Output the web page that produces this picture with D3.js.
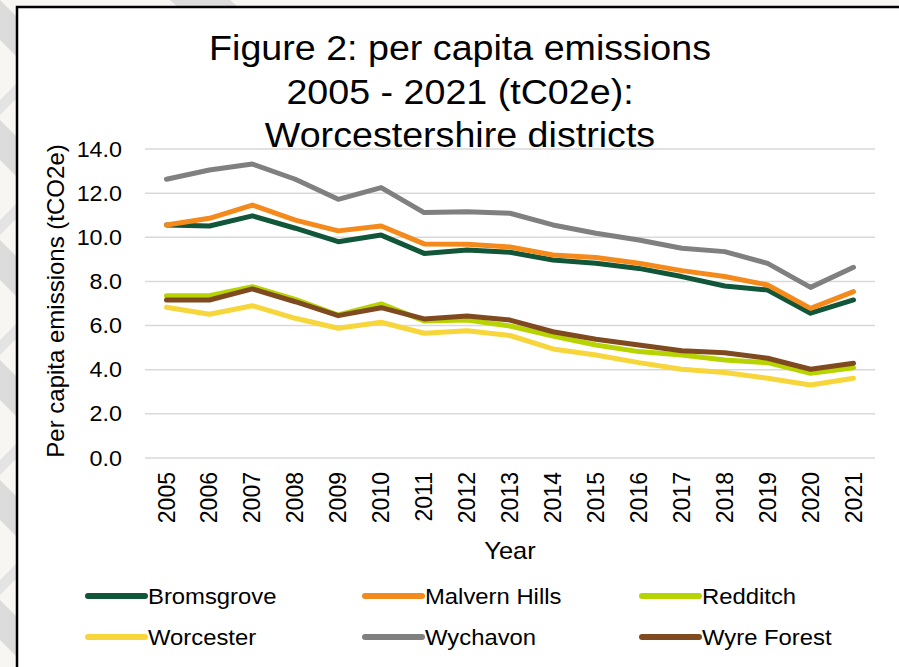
<!DOCTYPE html>
<html>
<head>
<meta charset="utf-8">
<script src="https://cdn.jsdelivr.net/npm/d3@7"></script>
<style>
  body { margin: 0; background: #f7f6f3; }
  svg { display: block; font-family: Arial, "Liberation Sans", sans-serif; }
</style>
</head>
<body>
<svg id="chart" width="899" height="667"></svg>
<script>
// data
const years = ["2005","2006","2007","2008","2009","2010","2011","2012","2013","2014","2015","2016","2017","2018","2019","2020","2021"];
const bromsgrove  = [10.56,10.51,10.97,10.41,9.80,10.10,9.27,9.42,9.32,8.97,8.82,8.59,8.22,7.79,7.61,6.56,7.16];
const malvernHills = [10.56,10.86,11.46,10.78,10.29,10.51,9.70,9.68,9.56,9.20,9.08,8.82,8.49,8.22,7.84,6.78,7.54];
const redditch    = [7.35,7.35,7.76,7.19,6.48,6.98,6.21,6.25,5.98,5.53,5.12,4.82,4.67,4.44,4.32,3.84,4.09];
const worcester   = [6.83,6.51,6.90,6.33,5.88,6.15,5.65,5.77,5.55,4.94,4.67,4.32,4.02,3.87,3.61,3.31,3.61];
const wychavon    = [12.63,13.05,13.32,12.63,11.72,12.25,11.12,11.16,11.09,10.56,10.18,9.88,9.50,9.35,8.82,7.73,8.64];
const wyreForest  = [7.16,7.16,7.66,7.08,6.45,6.81,6.30,6.43,6.25,5.72,5.38,5.12,4.86,4.77,4.52,4.02,4.29];
const yTicks = [0, 2, 4, 6, 8, 10, 12, 14];

const seriesNames = ["Bromsgrove", "Malvern Hills", "Redditch", "Worcester", "Wychavon", "Wyre Forest"];
const seriesValues = [bromsgrove, malvernHills, redditch, worcester, wychavon, wyreForest];
const seriesColors = ["#12563a", "#f58a1c", "#b8d400", "#f6d63b", "#808080", "#7f4a1f"];

// the original text is a touch wider than Liberation Sans
const stretch = "scale(1.06,1)";

const svg = d3.select("#chart");

// light striped backdrop down the left edge
const bg = svg.append("g");
for (let k = -2; k < 12; k++) {
  const y0 = k * 120;
  bg.append("path")
    .attr("d", `M0,${y0} L30,${y0 + 30} L30,${y0 + 70} L0,${y0 + 40} Z`)
    .attr("fill", "#dcdcdc");
  bg.append("path")
    .attr("d", `M0,${y0 + 100} L30,${y0 + 70} L30,${y0 + 85} L0,${y0 + 115} Z`)
    .attr("fill", "#e4e4e4");
}
bg.append("path").attr("d", "M170,0 L230,0 L238,7 L178,7 Z").attr("fill", "#dcdcdc");

// chart box
svg.append("rect")
  .attr("x", 17).attr("y", 7)
  .attr("width", 900).attr("height", 700)
  .attr("fill", "#ffffff")
  .attr("stroke", "#000000")
  .attr("stroke-width", 2.5);

const margin = { left: 145, right: 875, top: 149, bottom: 458 };

const x = d3.scaleBand().domain(years).range([margin.left, margin.right]);
const y = d3.scaleLinear().domain([0, 14]).range([margin.bottom, margin.top]);

// gridlines
svg.append("g")
  .selectAll("line")
  .data(yTicks)
  .enter()
  .append("line")
  .attr("x1", margin.left)
  .attr("x2", margin.right)
  .attr("y1", (d) => y(d))
  .attr("y2", (d) => y(d))
  .attr("stroke", "#d9d9d9")
  .attr("stroke-width", 1.5);

// y axis labels
const yAxis = svg.append("g")
  .attr("transform", `translate(${margin.left - 23},0)`)
  .call(d3.axisLeft(y).tickValues(yTicks).tickFormat(d3.format(".1f")).tickSize(0).tickPadding(0));
yAxis.select(".domain").remove();
yAxis.selectAll("text")
  .attr("font-size", "22px")
  .attr("fill", "#000")
  .attr("x", 0)
  .attr("transform", stretch);

// x axis labels, rotated
const xAxis = svg.append("g")
  .attr("transform", `translate(0,${margin.bottom})`)
  .call(d3.axisBottom(x).tickSize(0).tickPadding(0));
xAxis.select(".domain").remove();
xAxis.selectAll("text")
  .attr("font-size", "23px")
  .attr("fill", "#000")
  .attr("text-anchor", "end")
  .attr("transform", "translate(0,14) rotate(-90)")
  .attr("x", 0)
  .attr("y", 0)
  .attr("dy", ".35em");

// axis titles
svg.append("text")
  .attr("transform", "translate(64,301) rotate(-90)")
  .attr("text-anchor", "middle")
  .attr("font-size", "24px")
  .text("Per capita emissions (tCO2e)");

svg.append("text")
  .attr("transform", `translate(${(margin.left + margin.right) / 2},559) ${stretch}`)
  .attr("text-anchor", "middle")
  .attr("font-size", "24px")
  .text("Year");

// title
const titleLines = ["Figure 2: per capita emissions", "2005 - 2021 (tC02e):", "Worcestershire districts"];
svg.append("g")
  .selectAll("text")
  .data(titleLines)
  .enter()
  .append("text")
  .attr("transform", (d, i) => `translate(460,${60 + i * 43.5}) ${stretch}`)
  .attr("text-anchor", "middle")
  .attr("font-size", "35.5px")
  .text((d) => d);

// lines
const line = d3.line()
  .x((d, i) => x(years[i]) + x.bandwidth() / 2)
  .y((d) => y(d));

svg.append("g")
  .selectAll("path")
  .data(seriesValues)
  .enter()
  .append("path")
  .attr("d", line)
  .attr("fill", "none")
  .attr("stroke", (d, i) => seriesColors[i])
  .attr("stroke-width", 5)
  .attr("stroke-linejoin", "round")
  .attr("stroke-linecap", "round");

// legend
const legend = svg.append("g")
  .selectAll("g")
  .data(seriesNames)
  .enter()
  .append("g")
  .attr("transform", (d, i) => `translate(${88 + (i % 3) * 277},${596 + Math.floor(i / 3) * 41})`);

legend.append("line")
  .attr("x1", 0).attr("x2", 57)
  .attr("stroke", (d, i) => seriesColors[i])
  .attr("stroke-width", 6)
  .attr("stroke-linecap", "round");

legend.append("text")
  .attr("transform", `translate(60,0) ${stretch}`)
  .attr("dy", ".35em")
  .attr("font-size", "22.5px")
  .text((d) => d);
</script>
</body>
</html>
